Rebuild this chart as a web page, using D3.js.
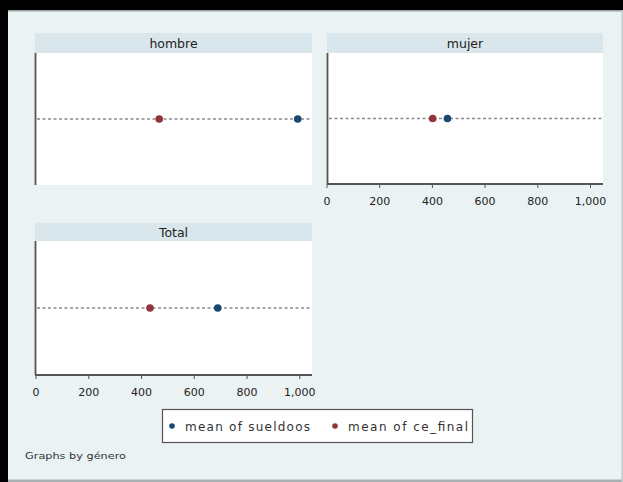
<!DOCTYPE html>
<html>
<head>
<meta charset="utf-8">
<script src="https://cdn.jsdelivr.net/npm/d3@7"></script>
<style>
  body { margin: 0; background: #fff; }
  text { font-family: "DejaVu Sans", Arial, sans-serif; }
</style>
</head>
<body>
<script>
// data
var groups = ["hombre", "mujer", "Total"]
var sueldoos = [994, 459, 691]
var ceFinal = [469, 403, 434]
var xTicks = [0, 200, 400, 600, 800, 1000]
var seriesNames = ["mean of sueldoos", "mean of ce_final"]
var seriesColors = ["#1a476f", "#90353b"]
var byLabel = "Graphs by género"

var W = 623, H = 482

var svg = d3.select("body").append("svg")
    .attr("width", W).attr("height", H)

// outer frame
svg.append("rect").attr("width", W).attr("height", H).attr("fill", "#eaf2f3")
svg.append("rect").attr("x", 0).attr("y", 0).attr("width", W).attr("height", 10).attr("fill", "#000")
svg.append("rect").attr("x", 0).attr("y", 0).attr("width", 8).attr("height", H).attr("fill", "#000")
svg.append("rect").attr("x", 8).attr("y", 10).attr("width", W - 8).attr("height", 1.5).attr("fill", "#9aa3a6")
svg.append("rect").attr("x", 8).attr("y", H - 2.5).attr("width", W - 8).attr("height", 2.5).attr("fill", "#a9b0b2")
svg.append("rect").attr("x", W - 1.5).attr("y", 10).attr("width", 1.5).attr("height", H).attr("fill", "#c3cacc")

// panel boxes
var panels = [
  {left: 35, right: 312, head: 33, top: 53, bottom: 185, x0: 35.5, x1: 299.3, axis: false},
  {left: 327, right: 603, head: 33, top: 53, bottom: 184, x0: 326.5, x1: 590, axis: true},
  {left: 35, right: 312, head: 223, top: 241, bottom: 375, x0: 35.5, x1: 299.3, axis: true}
]

var fmt = d3.format(",")

groups.forEach(function(name, i) {
  var p = panels[i]
  var g = svg.append("g")

  var x = d3.scaleLinear().domain([0, 1000]).range([p.x0, p.x1])
  var y = d3.scalePoint().domain([name]).range([p.top, p.bottom]).padding(0.5)

  g.append("rect")
    .attr("x", p.left).attr("y", p.head)
    .attr("width", p.right - p.left).attr("height", p.top - p.head)
    .attr("fill", "#d9e6eb")
  g.append("text")
    .attr("x", (p.left + p.right) / 2).attr("y", (p.head + p.top) / 2 + 4.5)
    .attr("text-anchor", "middle").attr("font-size", 12.5).attr("fill", "#222")
    .text(name)

  g.append("rect")
    .attr("x", p.left).attr("y", p.top)
    .attr("width", p.right - p.left).attr("height", p.bottom - p.top)
    .attr("fill", "#fff")

  // dotted guide line
  g.append("line")
    .attr("x1", p.left + 2).attr("x2", p.right - 1)
    .attr("y1", y(name)).attr("y2", y(name))
    .attr("stroke", "#8a8a8a").attr("stroke-width", 1.4)
    .attr("stroke-dasharray", "3,2.5")

  // left axis line
  g.append("line")
    .attr("x1", p.left + 0.5).attr("x2", p.left + 0.5)
    .attr("y1", p.top).attr("y2", p.bottom)
    .attr("stroke", "#555").attr("stroke-width", 1.8)

  if (p.axis) {
    var ax = g.append("g")
      .attr("transform", "translate(0," + p.bottom + ")")
      .call(d3.axisBottom(x).tickValues(xTicks).tickFormat(fmt).tickSize(4).tickSizeOuter(0))
    ax.select(".domain").remove()
    ax.append("line")
      .attr("x1", p.left).attr("x2", p.right)
      .attr("stroke", "#555").attr("stroke-width", 1.8)
    ax.selectAll(".tick line").attr("stroke", "#555")
    ax.selectAll(".tick text")
      .attr("font-size", 11).attr("fill", "#222")
      .attr("font-family", "DejaVu Sans, sans-serif")
      .attr("dy", "1.3em")
  }

  var vals = [sueldoos[i], ceFinal[i]]
  g.selectAll("circle.pt").data(vals).enter()
    .append("circle")
    .attr("class", "pt")
    .attr("cx", function(d) { return x(d) })
    .attr("cy", y(name))
    .attr("r", 3.8)
    .attr("fill", function(d, k) { return seriesColors[k] })
})

// legend
var leg = svg.append("g")
leg.append("rect")
  .attr("x", 162.5).attr("y", 409.5).attr("width", 310).attr("height", 33)
  .attr("fill", "#fff").attr("stroke", "#555").attr("stroke-width", 1.2)
var legX = [172, 335]
var legW = [125, 120]
seriesNames.forEach(function(s, k) {
  leg.append("circle").attr("cx", legX[k]).attr("cy", 426).attr("r", 2.8).attr("fill", seriesColors[k])
  leg.append("text").attr("x", legX[k] + 13).attr("y", 430.5)
    .attr("font-size", 12).attr("fill", "#333")
    .attr("textLength", legW[k]).attr("lengthAdjust", "spacing")
    .text(s)
})

svg.append("text").attr("x", 25).attr("y", 459)
  .attr("font-size", 9).attr("fill", "#333")
  .attr("textLength", 101).attr("lengthAdjust", "spacingAndGlyphs")
  .text(byLabel)
</script>
</body>
</html>
